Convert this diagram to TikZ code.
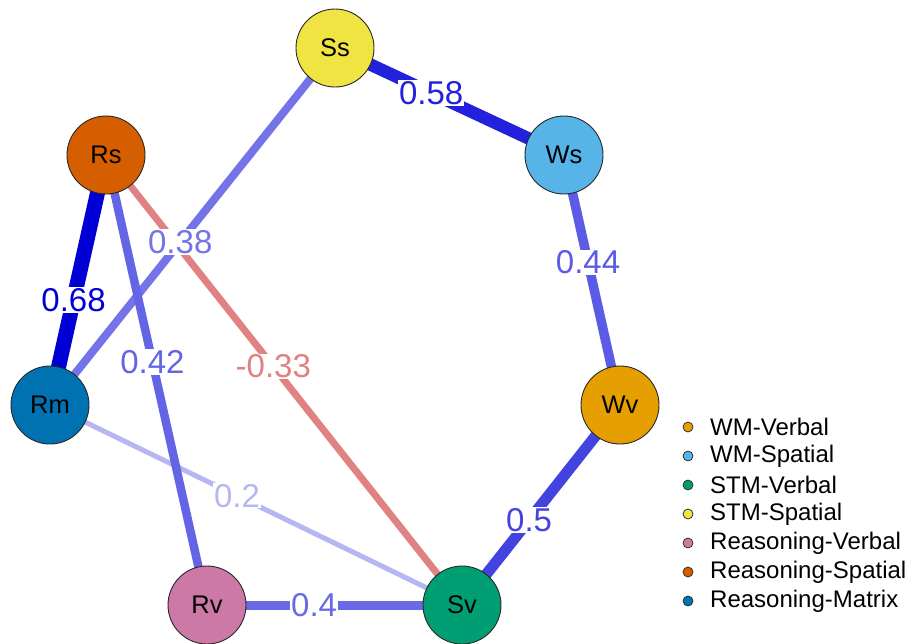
\documentclass[tikz,border=0pt]{standalone}
\usepackage{fontspec}
\setmainfont{Liberation Sans}
\usetikzlibrary{backgrounds}

% Okabe-Ito node fills
\definecolor{cWv}{HTML}{E69F00}
\definecolor{cWs}{HTML}{56B4E9}
\definecolor{cSv}{HTML}{009E73}
\definecolor{cSs}{HTML}{F0E442}
\definecolor{cRv}{HTML}{CC79A7}
\definecolor{cRs}{HTML}{D55E00}
\definecolor{cRm}{HTML}{0072B2}
% edge colours, fading with weight
\definecolor{e68}{HTML}{0000D6}
\definecolor{e58}{HTML}{2222DD}
\definecolor{e50}{HTML}{4343E0}
\definecolor{e44}{HTML}{5B5BE5}
\definecolor{e42}{HTML}{6464E6}
\definecolor{e40}{HTML}{6A6AE6}
\definecolor{e38}{HTML}{7474E8}
\definecolor{e20}{HTML}{B6B6F2}
\definecolor{neg33}{HTML}{E08282}

\tikzset{
  vert/.style={circle, draw=black!85, line width=0.9pt, minimum size=78pt,
    inner sep=0pt, font=\fontsize{25.5}{30}\selectfont},
  wlabel/.style={fill=white, inner sep=1pt, text=#1,
    font=\fontsize{33}{36}\selectfont},
  conn/.style={line width=#1},
  keydot/.style={circle, draw=black!80, line width=0.8pt, minimum size=10pt, inner sep=0pt},
  keytext/.style={anchor=west, inner sep=0pt, font=\fontsize{24}{28}\selectfont}
}

\begin{document}
\begin{tikzpicture}[x=1pt, y=-1pt]
\useasboundingbox (0,0) rectangle (912,643);

% variables
\node[vert, fill=cSs] (Ss) at (335,48)  {Ss};
\node[vert, fill=cWs] (Ws) at (564,155) {Ws};
\node[vert, fill=cWv] (Wv) at (620,405) {Wv};
\node[vert, fill=cSv] (Sv) at (462,605) {Sv};
\node[vert, fill=cRv] (Rv) at (207,605) {Rv};
\node[vert, fill=cRs] (Rs) at (106,155) {Rs};
\node[vert, fill=cRm] (Rm) at (50,405)  {Rm};

% weighted connections behind the nodes
\begin{scope}[on background layer]
  \draw[conn=7pt, draw=neg33] (Rs.center) -- node[wlabel=neg33, pos=0.47] (lRsSv) {-0.33} (Sv.center);
  \draw[conn=5pt, draw=e20] (Rm.center) -- node[wlabel=e20, pos=0.454] (lRmSv) {0.2} (Sv.center);
  \draw[conn=8pt, draw=e38] (Ss.center) -- node[wlabel=e38, pos=0.543] (lSsRm) {0.38} (Rm.center);
  \draw[conn=8.5pt, draw=e42] (Rs.center) -- node[wlabel=e42, pos=0.46] (lRsRv) {0.42} (Rv.center);
  \draw[conn=15pt, draw=e68] (Rs.center) -- node[wlabel=e68, pos=0.58] (lRsRm) {0.68} (Rm.center);
  \draw[conn=9pt, draw=e40] (Rv.center) -- node[wlabel=e40, pos=0.42] (lRvSv) {0.4} (Sv.center);
  \draw[conn=11pt, draw=e50] (Wv.center) -- node[wlabel=e50, pos=0.575] (lWvSv) {0.5} (Sv.center);
  \draw[conn=9.5pt, draw=e44] (Ws.center) -- node[wlabel=e44, pos=0.43] (lWsWv) {0.44} (Wv.center);
  \draw[conn=12.5pt, draw=e58] (Ss.center) -- node[wlabel=e58, pos=0.42] (lSsWs) {0.58} (Ws.center);
\end{scope}

% key
\node[keydot, fill=cWv] (k1) at (688,427) {};
\node[keytext] (t1) at (710,427) {WM-Verbal};
\node[keydot, fill=cWs] (k2) at (688,456) {};
\node[keytext] (t2) at (710,456) {WM-Spatial};
\node[keydot, fill=cSv] (k3) at (688,485) {};
\node[keytext] (t3) at (710,485) {STM-Verbal};
\node[keydot, fill=cSs] (k4) at (688,514) {};
\node[keytext] (t4) at (710,514) {STM-Spatial};
\node[keydot, fill=cRv] (k5) at (688,543) {};
\node[keytext] (t5) at (710,543) {Reasoning-Verbal};
\node[keydot, fill=cRs] (k6) at (688,572) {};
\node[keytext] (t6) at (710,572) {Reasoning-Spatial};
\node[keydot, fill=cRm] (k7) at (688,601) {};
\node[keytext] (t7) at (710,601) {Reasoning-Matrix};
\end{tikzpicture}
\end{document}
